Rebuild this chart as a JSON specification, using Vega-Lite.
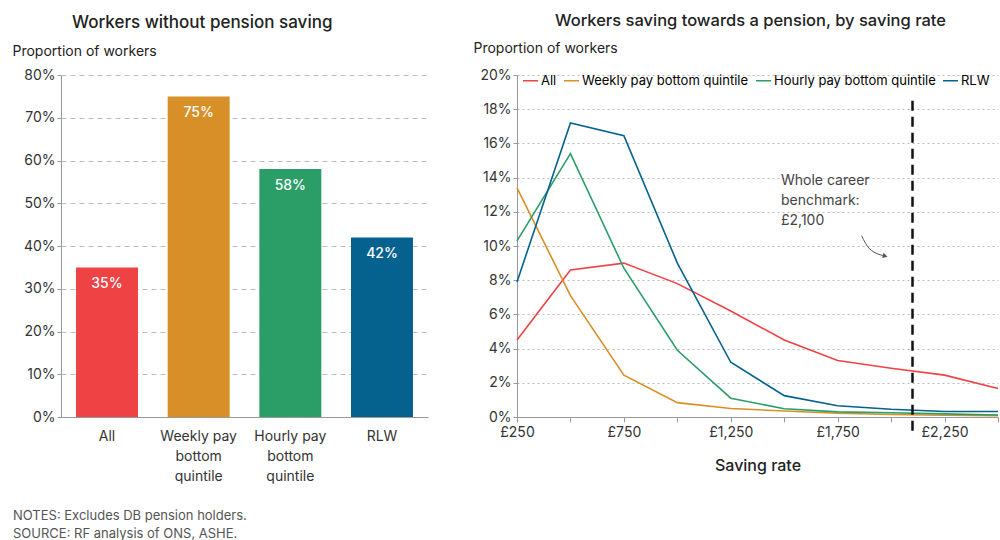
{
  "$schema": "https://vega.github.io/schema/vega-lite/v6.json",
  "padding": {"left": 12, "top": 12, "right": 2, "bottom": 2},
  "background": "white",
  "config": {
    "font": "Inter",
    "view": {"stroke": null},
    "axis": {"labelColor": "#333", "titleColor": "#222", "domainColor": "#999", "tickColor": "#999", "labelOverlap": false}
  },
  "title": {
    "text": ["NOTES: Excludes DB pension holders.", "SOURCE: RF analysis of ONS, ASHE."],
    "orient": "bottom", "anchor": "start", "frame": "group", "dx": -48,
    "fontSize": 13, "fontWeight": "normal", "color": "#555", "lineHeight": 18, "offset": 27
  },
  "resolve": {"scale": {"color": "shared"}, "legend": {"color": "independent"}},
  "spacing": 45,
  "hconcat": [
    {
      "width": 367,
      "height": 342,
      "title": {"text": "Workers without pension saving", "anchor": "start", "dx": 60, "fontSize": 17, "fontWeight": 500, "color": "#222", "offset": 12},
      "data": {"values": [
        {"group": "All", "pct": 0.35},
        {"group": "Weekly pay bottom quintile", "pct": 0.75},
        {"group": "Hourly pay bottom quintile", "pct": 0.58},
        {"group": "RLW", "pct": 0.42}
      ]},
      "encoding": {
        "x": {"field": "group", "type": "nominal", "sort": null,
          "scale": {"paddingInner": 0.324, "paddingOuter": 0.164},
          "axis": {"title": null, "labelAngle": 0, "ticks": false, "labelPadding": 12, "labelFontSize": 14, "labelLineHeight": 20,
            "labelExpr": "split(replace(datum.value, ' bottom ', '|bottom|'), '|')", "domainColor": "#999"}},
        "y": {"field": "pct", "type": "quantitative",
          "scale": {"domain": [0, 0.8], "nice": false},
          "axis": {"values": [0, 0.1, 0.2, 0.3, 0.4, 0.5, 0.6, 0.7, 0.8], "format": ".0%", "labelFontSize": 14, "tickSize": 4,
            "grid": true, "gridDash": [5, 4], "gridColor": "#bbb",
            "title": "Proportion of workers", "titleAngle": 0, "titleAlign": "left", "titleBaseline": "alphabetic",
            "titleX": -49, "titleY": -20, "titleFontSize": 14, "titleFontWeight": "normal"}}
      },
      "layer": [
        {"mark": {"type": "bar"},
         "encoding": {"color": {"field": "group", "type": "nominal",
           "scale": {"domain": ["All", "Weekly pay bottom quintile", "Hourly pay bottom quintile", "RLW"], "range": ["#ee4245", "#d98f27", "#2a9e66", "#05628f"]},
           "legend": null}}},
        {"mark": {"type": "text", "baseline": "top", "dy": 10, "color": "white", "fontSize": 14, "fontWeight": 500},
         "encoding": {"text": {"field": "pct", "type": "quantitative", "format": ".0%"}}}
      ]
    },
    {
      "width": 481,
      "height": 342,
      "title": {"text": "Workers saving towards a pension, by saving rate", "anchor": "start", "dx": 82, "fontSize": 16.5, "fontWeight": 500, "color": "#222", "offset": 12},
      "encoding": {
        "x": {"field": "rate", "type": "quantitative",
          "scale": {"domain": [250, 2500], "nice": false, "zero": false},
          "axis": {"values": [250, 500, 750, 1000, 1250, 1500, 1750, 2000, 2250, 2500],
            "labelExpr": "(datum.value - 250) % 500 == 0 ? '£' + format(datum.value, ',') : ''",
            "labelFontSize": 14, "tickSize": 5, "labelPadding": 3, "grid": false, "labelFlush": false, "labelOverlap": false,
            "title": "Saving rate", "titleFontSize": 16, "titleFontWeight": 500, "titlePadding": 18}},
        "y": {"field": "pct", "type": "quantitative",
          "scale": {"domain": [0, 0.2], "nice": false},
          "axis": {"values": [0, 0.02, 0.04, 0.06, 0.08, 0.1, 0.12, 0.14, 0.16, 0.18, 0.2],
            "labelExpr": "format(datum.value, '.0%')", "labelFontSize": 14, "tickSize": 4, "labelOverlap": false, "labelBound": false,
            "grid": true, "gridDash": [2, 3], "gridColor": "#bbb",
            "title": "Proportion of workers", "titleAngle": 0, "titleAlign": "left", "titleBaseline": "alphabetic",
            "titleX": -44, "titleY": -23, "titleFontSize": 14, "titleFontWeight": "normal"}}
      },
      "layer": [
        {
          "data": {"values": [
            {"rate": 250, "group": "All", "pct": 0.045},
            {"rate": 500, "group": "All", "pct": 0.086},
            {"rate": 750, "group": "All", "pct": 0.090},
            {"rate": 1000, "group": "All", "pct": 0.078},
            {"rate": 1250, "group": "All", "pct": 0.062},
            {"rate": 1500, "group": "All", "pct": 0.045},
            {"rate": 1750, "group": "All", "pct": 0.033},
            {"rate": 2000, "group": "All", "pct": 0.0285},
            {"rate": 2250, "group": "All", "pct": 0.0245},
            {"rate": 2500, "group": "All", "pct": 0.0167},
            {"rate": 250, "group": "Weekly pay bottom quintile", "pct": 0.134},
            {"rate": 500, "group": "Weekly pay bottom quintile", "pct": 0.071},
            {"rate": 750, "group": "Weekly pay bottom quintile", "pct": 0.0245},
            {"rate": 1000, "group": "Weekly pay bottom quintile", "pct": 0.0084},
            {"rate": 1250, "group": "Weekly pay bottom quintile", "pct": 0.005},
            {"rate": 1500, "group": "Weekly pay bottom quintile", "pct": 0.0035},
            {"rate": 1750, "group": "Weekly pay bottom quintile", "pct": 0.0022},
            {"rate": 2000, "group": "Weekly pay bottom quintile", "pct": 0.0015},
            {"rate": 2250, "group": "Weekly pay bottom quintile", "pct": 0.001},
            {"rate": 2500, "group": "Weekly pay bottom quintile", "pct": 0.0008},
            {"rate": 250, "group": "Hourly pay bottom quintile", "pct": 0.103},
            {"rate": 500, "group": "Hourly pay bottom quintile", "pct": 0.154},
            {"rate": 750, "group": "Hourly pay bottom quintile", "pct": 0.087},
            {"rate": 1000, "group": "Hourly pay bottom quintile", "pct": 0.039},
            {"rate": 1250, "group": "Hourly pay bottom quintile", "pct": 0.011},
            {"rate": 1500, "group": "Hourly pay bottom quintile", "pct": 0.0048},
            {"rate": 1750, "group": "Hourly pay bottom quintile", "pct": 0.003},
            {"rate": 2000, "group": "Hourly pay bottom quintile", "pct": 0.0025},
            {"rate": 2250, "group": "Hourly pay bottom quintile", "pct": 0.0018},
            {"rate": 2500, "group": "Hourly pay bottom quintile", "pct": 0.0012},
            {"rate": 250, "group": "RLW", "pct": 0.079},
            {"rate": 500, "group": "RLW", "pct": 0.172},
            {"rate": 750, "group": "RLW", "pct": 0.1645},
            {"rate": 1000, "group": "RLW", "pct": 0.09},
            {"rate": 1250, "group": "RLW", "pct": 0.032},
            {"rate": 1500, "group": "RLW", "pct": 0.0125},
            {"rate": 1750, "group": "RLW", "pct": 0.0066},
            {"rate": 2000, "group": "RLW", "pct": 0.0045},
            {"rate": 2250, "group": "RLW", "pct": 0.0032},
            {"rate": 2500, "group": "RLW", "pct": 0.0032}
          ]},
          "mark": {"type": "line", "strokeWidth": 1.6},
          "encoding": {
            "color": {"field": "group", "type": "nominal",
              "scale": {"domain": ["All", "Weekly pay bottom quintile", "Hourly pay bottom quintile", "RLW"], "range": ["#ee4245", "#d98f27", "#2a9e66", "#05628f"]},
              "legend": {"title": null, "orient": "none", "legendX": 5, "legendY": -3, "direction": "horizontal", "labelLimit": 400,
                "symbolType": "stroke", "symbolSize": 225, "symbolStrokeWidth": 1.5, "labelFontSize": 13, "labelOffset": 2, "columnPadding": 4,
                "encode": {"labels": {"fill": {"condition": [
                  {"test": "datum.value === 'All'", "value": "#e8475a"},
                  {"test": "datum.value === 'Weekly pay bottom quintile'", "value": "#dfa043"},
                  {"test": "datum.value === 'Hourly pay bottom quintile'", "value": "#3a9e72"}
                ], "value": "#1d6a8f"}}}}}
          }
        },
        {
          "data": {"values": [{"benchmark": 2100, "top": 0.185, "bottom": -0.011}]},
          "mark": {"type": "rule", "color": "#111", "strokeWidth": 2.5, "strokeDash": [10, 6]},
          "encoding": {
            "x": {"field": "benchmark", "type": "quantitative"},
            "y": {"field": "top", "type": "quantitative"},
            "y2": {"field": "bottom"}
          }
        },
        {
          "data": {"values": [{"label": "Whole career\nbenchmark:\n£2,100", "rate": 1485, "pct": 0.142}]},
          "mark": {"type": "text", "align": "left", "baseline": "top", "fontSize": 14, "color": "#444", "lineHeight": 20, "lineBreak": "\n"},
          "encoding": {
            "text": {"field": "label", "type": "nominal"}
          }
        },
        {
          "data": {"values": [
            {"rate": 1862, "pct": 0.106},
            {"rate": 1898, "pct": 0.0985},
            {"rate": 1970, "pct": 0.0942}
          ]},
          "mark": {"type": "line", "color": "#555", "strokeWidth": 1, "interpolate": "monotone"},
          "encoding": {}
        },
        {
          "data": {"values": [{"rate": 1972, "pct": 0.0941}]},
          "mark": {"type": "point", "shape": "triangle-right", "filled": true, "color": "#555", "size": 30, "angle": 15, "opacity": 1},
          "encoding": {}
        }
      ]
    }
  ]
}
